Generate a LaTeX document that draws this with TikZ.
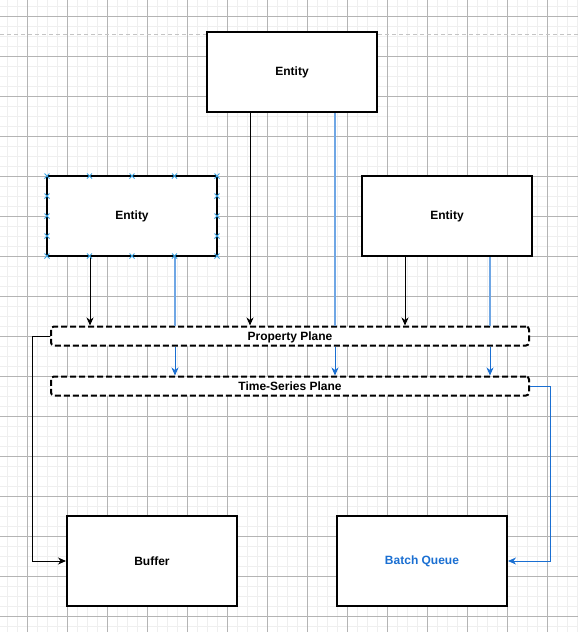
\documentclass[tikz,border=0pt]{standalone}
\usepackage{fontspec}
\setmainfont{Liberation Sans}
\usetikzlibrary{arrows.meta}
\definecolor{gridminor}{HTML}{EFEFEF}
\definecolor{gridmajor}{HTML}{B4B4B4}
\definecolor{pagebreak}{HTML}{C4C4C4}
\definecolor{linkblue}{HTML}{1A6FD2}
\definecolor{paleblue}{HTML}{6FA6E4}
\definecolor{markblue}{HTML}{3AA3E3}
\tikzset{
  entity/.style={draw, line width=2pt, fill=white, minimum width=170pt, minimum height=80pt,
    font=\bfseries\fontsize{12}{14}\selectfont},
  sink/.style={entity, minimum height=90pt},
  plane/.style={draw, line width=2pt, dash pattern=on 6pt off 3pt, rounded corners=3pt, fill=white,
    minimum width=478pt, minimum height=19pt, inner sep=0pt, text depth=0pt, font=\bfseries\fontsize{12}{14}\selectfont},
  blk/.style={line width=1pt, -{Stealth[length=8pt,width=7pt,inset=2.5pt]}},
  blu/.style={blk, draw=linkblue},
  pale/.style={line width=1.3pt, draw=paleblue},
  selmark/.style={draw=markblue, line width=0.9pt}
}
\begin{document}
\begin{tikzpicture}[x=1pt,y=-1pt]
\useasboundingbox (0,0) rectangle (578,632);
% grid
\foreach \gx in {7,17,...,577} \draw[gridminor, line width=1pt] (\gx,0) -- (\gx,632);
\foreach \gy in {6.5,16.5,...,632} \draw[gridminor, line width=1pt] (0,\gy) -- (578,\gy);
\foreach \gx in {27,67,...,577} \draw[gridmajor, line width=0.8pt] (\gx,0) -- (\gx,632);
\foreach \gy in {16.5,56.5,...,632} \draw[gridmajor, line width=0.8pt] (0,\gy) -- (578,\gy);
\draw[pagebreak, line width=0.8pt, dash pattern=on 4pt off 3pt] (0,34) -- (578,34);

% boxes
\node[entity] (eT) at (292,72) {Entity};
\node[entity] (eL) at (132,216) {Entity};
\node[entity] (eR) at (447,216) {Entity};
\node[plane] (pp) at (290,336) {Property Plane};
\node[plane] (ts) at (290,386) {Time-Series Plane};
\node[sink] (buf) at (152,561) {Buffer};
\node[sink, text=linkblue] (bq) at (422,561) {Batch Queue};

% entity to planes
\draw[blk] ([xshift=-42pt]eL.south) -- ([xshift=-42pt]eL.south |- pp.north);
\draw[blk] ([xshift=-42pt]eT.south) -- ([xshift=-42pt]eT.south |- pp.north);
\draw[blk] ([xshift=-42pt]eR.south) -- ([xshift=-42pt]eR.south |- pp.north);
\draw[pale] ([xshift=43pt]eL.south) -- ([xshift=43pt]eL.south |- pp.north);
\draw[pale] ([xshift=43pt]eT.south) -- ([xshift=43pt]eT.south |- pp.north);
\draw[pale] ([xshift=43pt]eR.south) -- ([xshift=43pt]eR.south |- pp.north);
\draw[blu] ([xshift=43pt]eL.south |- pp.south) -- ([xshift=43pt]eL.south |- ts.north);
\draw[blu] ([xshift=43pt]eT.south |- pp.south) -- ([xshift=43pt]eT.south |- ts.north);
\draw[blu] ([xshift=43pt]eR.south |- pp.south) -- ([xshift=43pt]eR.south |- ts.north);

% planes to sinks
\draw[blk] (pp.west) -- ++(-18,0) |- (buf.west);
\draw[blu] (ts.east) -- ++(20,0) |- (bq.east);

% selection marks
\foreach \mx in {47,89.5,132,174.5,217}
  \foreach \my in {176,256}
    \draw[selmark] (\mx-2.5,\my-2.5) -- (\mx+2.5,\my+2.5) (\mx-2.5,\my+2.5) -- (\mx+2.5,\my-2.5);
\foreach \mx in {47,217}
  \foreach \my in {196,216,236}
    \draw[selmark] (\mx-2.5,\my-2.5) -- (\mx+2.5,\my+2.5) (\mx-2.5,\my+2.5) -- (\mx+2.5,\my-2.5);
\end{tikzpicture}
\end{document}
